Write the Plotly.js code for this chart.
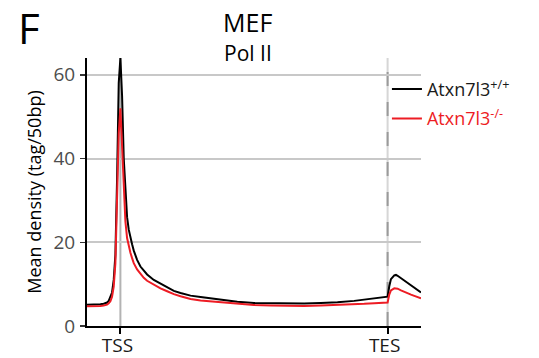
<!DOCTYPE html>
<html>
<head>
<meta charset="utf-8">
<script src="https://cdn.plot.ly/plotly-3.0.1.min.js"></script>
<style>html,body{margin:0;padding:0;background:#fff;}#chart{width:539px;height:358px;}</style>
</head>
<body>
<div id="chart"></div>
<script>
// Position along the meta-gene: -10..0 upstream, 0 = TSS, 80 = TES, 80..90 downstream
var positions = [-10, -8, -6, -5, -4, -3.5, -3, -2.5, -2, -1.5, -1, -0.5, 0, 0.5, 1, 1.5, 2, 2.5, 3, 3.5, 4, 5, 6, 7, 8, 10, 12, 14, 16, 18, 21, 24, 27, 30, 35, 40, 45, 50, 55, 60, 65, 70, 73, 76, 78, 80, 80.5, 81, 82, 82.5, 83, 84, 85, 86, 87, 88, 89, 90];
var wildType = [5.1, 5.1, 5.2, 5.3, 5.6, 6.0, 6.8, 8.0, 11.0, 17, 35, 58, 64, 55, 40, 31, 26, 23, 21, 19.5, 18, 15.8, 14.2, 13.2, 12.3, 11.0, 10.1, 9.1, 8.4, 7.9, 7.25, 6.9, 6.6, 6.2, 5.8, 5.5, 5.4, 5.35, 5.35, 5.5, 5.65, 6.0, 6.3, 6.6, 6.8, 7.0, 9.5, 11.2, 12.1, 12.2, 12.0, 11.4, 10.8, 10.2, 9.6, 9.0, 8.5, 8.0];
var knockout = [4.7, 4.7, 4.8, 4.9, 5.1, 5.4, 5.9, 7.0, 9.4, 15, 30, 46, 52, 43, 32, 25, 21, 19, 17.5, 16.2, 15, 13.5, 12.4, 11.5, 10.8, 9.8, 9.0, 8.3, 7.6, 7.1, 6.45, 6.1, 5.9, 5.65, 5.3, 5.0, 4.9, 4.8, 4.8, 4.9, 5.0, 5.2, 5.3, 5.45, 5.5, 5.6, 7.5, 8.5, 9.0, 9.0, 8.9, 8.5, 8.1, 7.8, 7.5, 7.2, 6.9, 6.6];
var seriesNames = ['Atxn7l3<sup>+/+</sup>', 'Atxn7l3<sup>-/-</sup>'];
var tickPositions = [0, 80];
var tickLabels = ['TSS', 'TES'];
var yTicks = [0, 20, 40, 60];

var RED = '#ed1c24';
var FONT = 'Open Sans, sans-serif';

var traces = [
  {x: positions, y: wildType, type: 'scatter', mode: 'lines', name: seriesNames[0],
   line: {color: '#000000', width: 2}, legendgroup: 'a'},
  {x: positions, y: knockout, type: 'scatter', mode: 'lines',
   name: '<span style="color:' + RED + '">' + seriesNames[1] + '</span>',
   line: {color: RED, width: 2}, legendgroup: 'b'}
];

var layout = {
  width: 539, height: 358,
  margin: {l: 87, r: 118, t: 58, b: 31.5, pad: 0, autoexpand: false},
  paper_bgcolor: '#fff', plot_bgcolor: '#fff',
  font: {family: FONT, color: '#000'},
  showlegend: true,
  legend: {x: 0.898, xanchor: 'left', y: 0.952, yanchor: 'top', font: {size: 18, family: FONT, color: '#1a1a1a'},
           tracegroupgap: 3, bgcolor: 'rgba(0,0,0,0)', itemwidth: 30},
  xaxis: {range: [-10, 90], tickvals: tickPositions, ticktext: tickLabels, showgrid: false, zeroline: false,
          showline: true, linecolor: '#000', linewidth: 2, ticks: 'outside', ticklen: 6, tickwidth: 2, tickcolor: '#000',
          ticklabelstandoff: -5, ticklabelshift: -3,
          tickfont: {size: 19, family: FONT, color: '#1a1a1a'}, fixedrange: true},
  yaxis: {range: [0, 64], tickvals: yTicks, showgrid: true, gridcolor: '#c8c8c8', gridwidth: 2, zeroline: false,
          showline: true, linecolor: '#000', linewidth: 2, ticks: 'outside', ticklen: 5, tickwidth: 1.5, tickcolor: '#333',
          ticklabelstandoff: 1,
          tickfont: {size: 19, family: FONT, color: '#4d4d4d'},
          title: {text: 'Mean density (tag/50bp)', font: {size: 18, family: FONT, color: '#000'}, standoff: 7}, fixedrange: true},
  shapes: [
    {type: 'line', xref: 'x', yref: 'y', x0: 0, x1: 0, y0: 0, y1: 64, layer: 'below', line: {color: '#b3b3b3', width: 2}},
    {type: 'line', xref: 'x', yref: 'y', x0: 80, x1: 80, y0: 0, y1: 64, layer: 'below', line: {color: '#d6d6d6', width: 2}},
    {type: 'line', xref: 'x', yref: 'y', x0: 80, x1: 80, y0: 0, y1: 64, layer: 'below', line: {color: '#9a9a9a', width: 2, dash: '14px,16px'}}
  ],
  annotations: [
    {text: 'F', xref: 'paper', yref: 'paper', x: -0.212, y: 1.115, xanchor: 'left', yanchor: 'middle', showarrow: false,
     font: {size: 42, family: FONT, color: '#000'}},
    {text: 'MEF', xref: 'paper', yref: 'paper', x: 0.482, y: 1.134, xanchor: 'center', yanchor: 'middle', showarrow: false,
     font: {size: 25, family: FONT, color: '#000'}},
    {text: 'Pol II', xref: 'paper', yref: 'paper', x: 0.482, y: 1.019, xanchor: 'center', yanchor: 'middle', showarrow: false,
     font: {size: 21, family: FONT, color: '#000'}}
  ]
};

Plotly.newPlot('chart', traces, layout, {displayModeBar: false, staticPlot: true});
</script>
</body>
</html>
